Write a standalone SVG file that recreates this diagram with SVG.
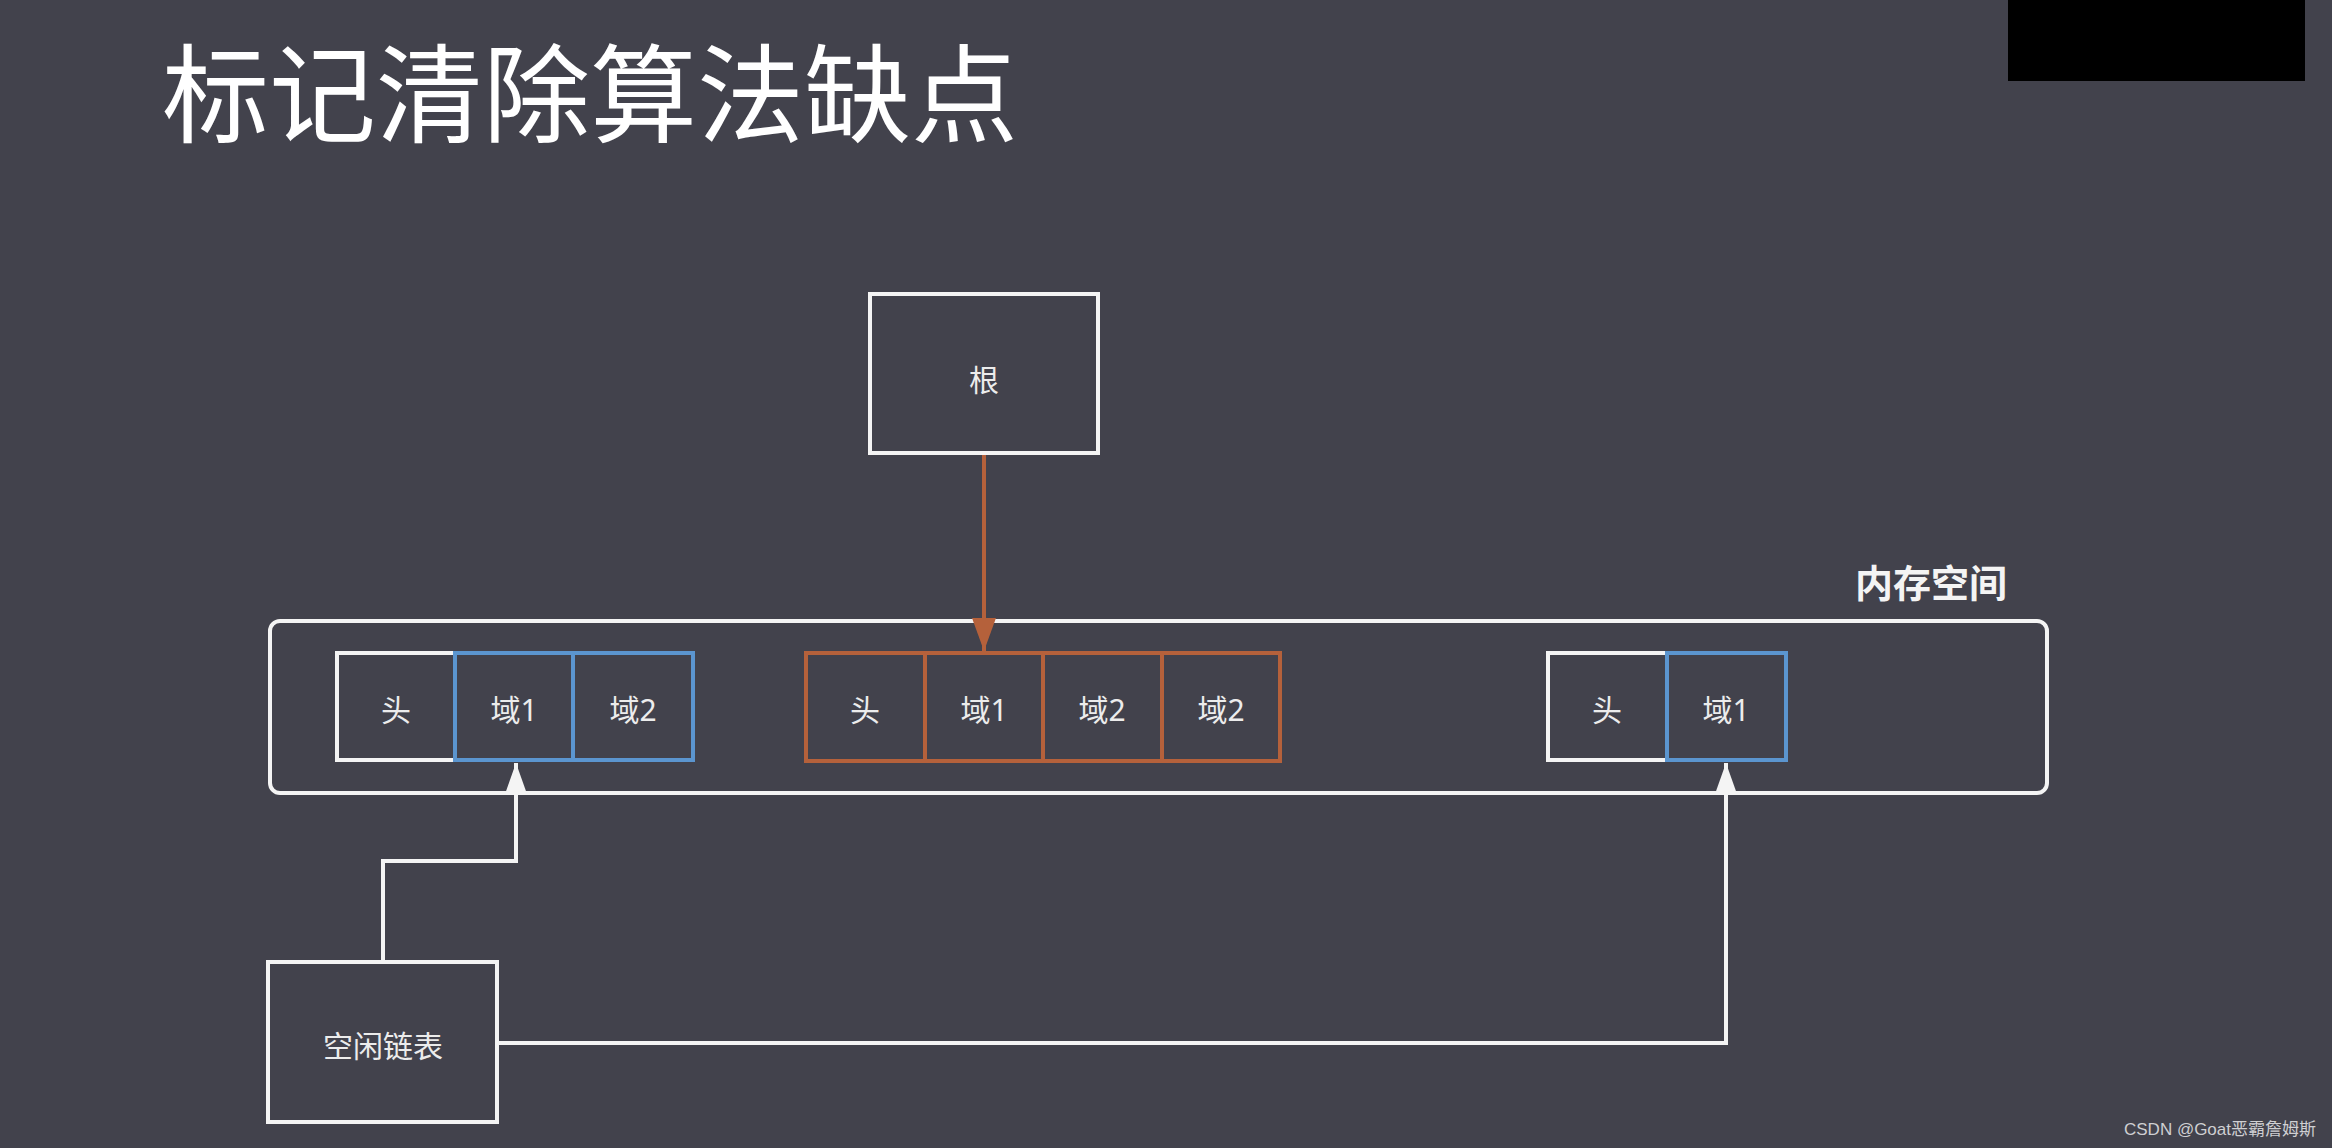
<svg xmlns="http://www.w3.org/2000/svg" width="2332" height="1148" viewBox="0 0 2332 1148">
<defs>
<style>
.bg{fill:#42424c}
.box{fill:none;stroke:#f4f4f4;stroke-width:4}
.cell-w{fill:#42424c;stroke:#f4f4f4;stroke-width:4}
.cell-b{fill:#42424c;stroke:#5b95cf;stroke-width:4}
.cell-o{fill:#42424c;stroke:#b5613b;stroke-width:4}
.lbl{font-family:"Noto Sans","Noto Sans CJK SC",sans-serif;font-size:30px;fill:#ececec;text-anchor:middle}
.title{font-family:"Noto Sans CJK SC",sans-serif;font-size:107px;font-weight:400;fill:#ffffff}
.mem{font-family:"Noto Sans CJK SC",sans-serif;font-size:38px;font-weight:700;fill:#f4f4f4;text-anchor:middle}
.wm{font-family:"Liberation Sans","Noto Sans CJK SC",sans-serif;font-size:17px;fill:#cfcfd2;text-anchor:end}
.cw{fill:none;stroke:#f4f4f4;stroke-width:4}
.co{fill:none;stroke:#b5613b;stroke-width:4}
</style>
<marker id="arrW" markerUnits="userSpaceOnUse" markerWidth="32" markerHeight="24" refX="31" refY="12" orient="auto">
<path d="M0,1 L31,12 L0,23 Z" fill="#f4f4f4"/>
</marker>
<marker id="arrO" markerUnits="userSpaceOnUse" markerWidth="34" markerHeight="26" refX="33" refY="12" orient="auto">
<path d="M0,0 L33,12 L0,24 Z" fill="#b5613b"/>
</marker>
</defs>
<rect class="bg" x="0" y="0" width="2332" height="1148"/>
<rect x="2008" y="0" width="297" height="81" fill="#000000"/>
<text class="title" x="162" y="134">标记清除算法缺点</text>

<g id="memory-space">
<rect class="box" x="270" y="621" width="1777" height="172" rx="10"/>
<text class="mem" x="1931" y="597">内存空间</text>
</g>

<g id="root">
<rect class="box" x="870" y="294" width="228" height="159"/>
<text class="lbl" x="984" y="391">根</text>
</g>

<g id="obj1">
<rect class="cell-w" x="337" y="653" width="118" height="107"/>
<text class="lbl" x="396" y="721">头</text>
<rect class="cell-b" x="455" y="653" width="118" height="107"/>
<text class="lbl" x="514" y="721">域1</text>
<rect class="cell-b" x="573" y="653" width="120" height="107"/>
<text class="lbl" x="633" y="721">域2</text>
</g>

<g id="obj2">
<rect class="cell-o" x="806" y="653" width="119" height="108"/>
<text class="lbl" x="865" y="721">头</text>
<rect class="cell-o" x="925" y="653" width="118" height="108"/>
<text class="lbl" x="984" y="721">域1</text>
<rect class="cell-o" x="1043" y="653" width="119" height="108"/>
<text class="lbl" x="1102" y="721">域2</text>
<rect class="cell-o" x="1162" y="653" width="118" height="108"/>
<text class="lbl" x="1221" y="721">域2</text>
</g>

<g id="obj3">
<rect class="cell-w" x="1548" y="653" width="119" height="107"/>
<text class="lbl" x="1607" y="721">头</text>
<rect class="cell-b" x="1667" y="653" width="119" height="107"/>
<text class="lbl" x="1726" y="721">域1</text>
</g>

<g id="free-list">
<rect class="box" x="268" y="962" width="229" height="160"/>
<text class="lbl" x="383" y="1057">空闲链表</text>
</g>

<g id="connectors">
<path class="co" d="M984,455 L984,651" marker-end="url(#arrO)"/>
<path class="cw" d="M383,962 L383,861 L516,861 L516,763" marker-end="url(#arrW)"/>
<path class="cw" d="M497,1043 L1726,1043 L1726,763" marker-end="url(#arrW)"/>
</g>

<text class="wm" x="2316" y="1135">CSDN @Goat恶霸詹姆斯</text>
</svg>
